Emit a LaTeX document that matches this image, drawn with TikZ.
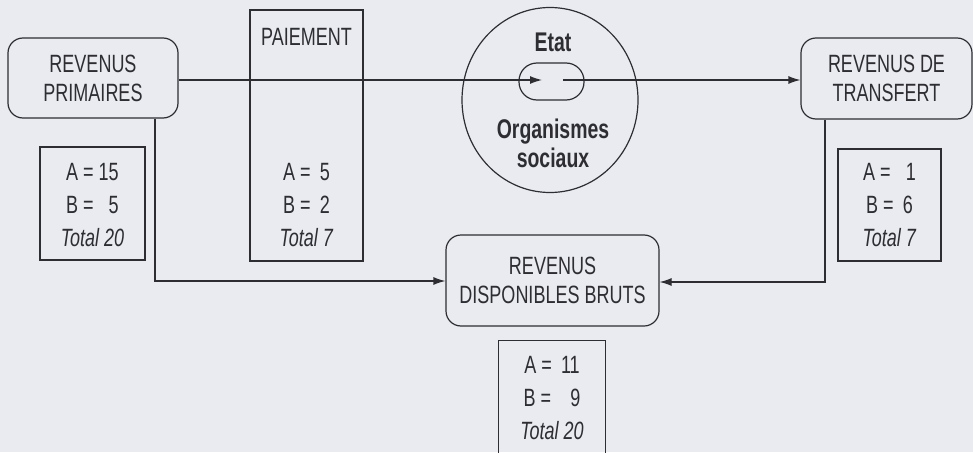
\documentclass[tikz,border=0pt]{standalone}
\usepackage{fontspec}
\setmainfont{Liberation Sans}[FakeStretch=0.72]
\usetikzlibrary{arrows.meta,shapes.geometric}
\definecolor{paper}{RGB}{233,235,240}
\definecolor{ink}{RGB}{45,45,50}
\tikzset{
  lbl/.style={text=ink,align=center,inner sep=0pt,font=\fontsize{25}{29}\selectfont},
  vals/.style={text=ink,align=center,inner sep=0pt,font=\fontsize{25}{33}\selectfont},
  bold/.style={text=ink,align=center,inner sep=0pt,font=\fontsize{27}{29}\selectfont\bfseries},
  rbox/.style={draw=ink,line width=1.2pt,rounded corners=15pt,inner sep=0pt},
  sbox/.style={draw=ink,line width=1.2pt,inner sep=0pt},
  link/.style={draw=ink,line width=1.2pt},
  arr/.style={link,-{Latex[length=12pt,width=8pt]}},
}
\begin{document}
\begin{tikzpicture}[x=1pt,y=-1pt]
  \fill[paper] (0,0) rectangle (973,452);
  \useasboundingbox (0,0) rectangle (973,452);
  \clip (0,0) rectangle (973,452);

  % income boxes
  \node[rbox,minimum width=170pt,minimum height=80pt] (prim) at (93,78) {};
  \node[lbl] (primtxt) at (93,78) {REVENUS\\PRIMAIRES};
  \node[rbox,minimum width=171pt,minimum height=81pt] (trans) at (886.5,78.5) {};
  \node[lbl] (transtxt) at (886.5,78.5) {REVENUS DE\\TRANSFERT};
  \node[rbox,minimum width=213pt,minimum height=91pt] (disp) at (552.5,280.5) {};
  \node[lbl] (disptxt) at (552.5,280.5) {REVENUS\\DISPONIBLES BRUTS};

  % payment column
  \node[sbox,minimum width=113pt,minimum height=251pt] (paie) at (306.5,135.5) {};
  \node[lbl] (paietxt) at (306.5,37) {PAIEMENT};
  \node[vals] (paieval) at (306.5,205) {A = \,5\\B = \,2\\\textit{Total 7}};

  % value boxes
  \node[sbox,minimum width=105pt,minimum height=113pt] (vprim) at (92.5,203.5) {};
  \node[vals] (vprimtxt) at (92.5,205) {A = 15\\B = \phantom{1}5\\\textit{Total 20}};
  \node[sbox,minimum width=103pt,minimum height=112pt] (vtrans) at (889.5,205) {};
  \node[vals] (vtranstxt) at (889.5,205) {A = \phantom{1}1\\B = \,6\\\textit{Total 7}};
  \node[inner sep=0pt,minimum width=106pt,minimum height=130pt] (vdisp) at (552,406) {};
  \draw[link] (vdisp.south west) -- (vdisp.north west) -- (vdisp.north east) -- (vdisp.south east);
  \node[vals] (vdisptxt) at (552,398) {A = \,11\\B = \phantom{1}\,9\\\textit{Total 20}};

  % State and social bodies
  \node[draw=ink,line width=1.2pt,ellipse,inner sep=0pt,minimum width=176pt,minimum height=185pt] (etat) at (550,100) {};
  \node[bold] (etattxt) at (553,42) {Etat};
  \node[bold] (orgtxt) at (553,143) {Organismes\\sociaux};
  \node[draw=ink,line width=1.2pt,rounded corners=18pt,inner sep=0pt,minimum width=65pt,minimum height=37pt] (pass) at (551.5,81.5) {};

  % flows
  \coordinate (in) at (542,80);
  \coordinate (out) at (563,80);
  \draw[arr] (prim.east |- in) -- (in);
  \draw[arr] (out) -- (trans.west |- out);
  \coordinate (pd) at (155,281);
  \draw[arr] (prim.south -| pd) -- (pd) -- (disp.west |- pd);
  \coordinate (td) at (825,282);
  \draw[arr] (trans.south -| td) -- (td) -- (disp.east |- td);
\end{tikzpicture}
\end{document}
